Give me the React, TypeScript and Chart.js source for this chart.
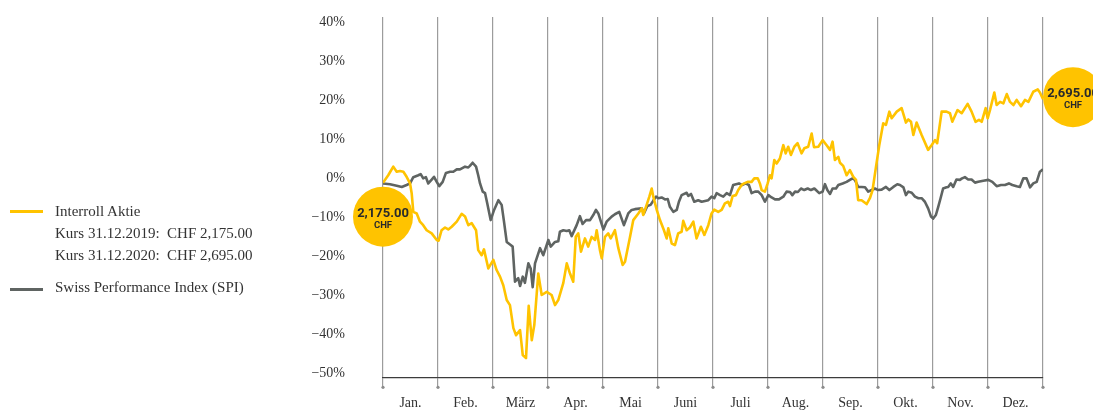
import React, { useEffect, useRef } from "react";
import { Chart, registerables } from "chart.js";

Chart.register(...registerables);

const months = ["Jan.", "Feb.", "März", "Apr.", "Mai", "Juni", "Juli", "Aug.", "Sep.", "Okt.", "Nov.", "Dez."];
const yTicks = [-50, -40, -30, -20, -10, 0, 10, 20, 30, 40];
const startPrice = "2,175.00";
const endPrice = "2,695.00";
const currency = "CHF";

// x: day of year (each month drawn with equal width of 30.5 days)
const interrollDays = [
  0, 2.9, 5.7, 7.6, 9.4, 11.3, 13.1, 15.0, 15.9, 16.8,
  18.7, 20.5, 22.3, 24.2, 27.0, 29.8, 30.8, 32.5, 34.4, 36.2,
  38.1, 40.9, 43.6, 45.5, 47.3, 49.2, 51.6, 52.8, 54.7, 56.0,
  58.4, 61.2, 63.0, 64.9, 66.7, 68.6, 70.4, 72.3, 73.8, 76.0,
  77.5, 79.3, 80.8, 82.5, 83.9, 86.1, 88.0, 90.8, 93.5, 95.4,
  97.2, 100.0, 101.9, 103.7, 105.5, 106.9, 108.3, 109.8, 112.0, 113.8,
  115.7, 117.6, 118.5, 120.3, 121.3, 123.1, 124.9, 126.3, 128.6, 130.5,
  132.9, 134.2, 137.0, 138.8, 141.6, 143.5, 144.3, 146.2, 147.7, 149.0,
  149.9, 151.8, 153.6, 155.8, 157.3, 158.2, 160.1, 161.9, 163.7, 165.6,
  166.5, 168.4, 170.2, 172.1, 173.9, 176.3, 178.2, 180.4, 182.2, 183.7,
  185.9, 187.8, 189.6, 191.4, 192.4, 193.9, 195.7, 197.0, 198.9, 200.3,
  202.2, 204.4, 205.9, 207.8, 209.0, 210.0, 211.8, 213.3, 214.6, 215.5,
  217.0, 218.3, 220.1, 222.0, 223.3, 224.7, 226.2, 228.1, 229.9, 232.1,
  233.6, 235.8, 237.7, 239.0, 241.4, 243.8, 246.0, 247.9, 249.3, 250.6,
  252.5, 253.4, 255.2, 257.1, 258.9, 260.8, 262.3, 263.5, 265.4, 268.2,
  270.0, 271.5, 273.4, 275.2, 277.4, 278.9, 280.8, 282.1, 284.9, 287.6,
  290.0, 291.3, 292.8, 294.1, 295.9, 298.7, 302.3, 304.2, 306.1, 307.3,
  309.8, 312.5, 314.4, 315.7, 318.6, 320.9, 324.2, 326.4, 328.6, 330.5,
  332.0, 334.2, 335.3, 336.6, 339.0, 340.3, 342.2, 344.0, 345.9, 347.7,
  349.6, 351.4, 353.8, 356.0, 357.9, 360.6, 363.1, 364.3, 366
];
const interrollValues = [
  -1.0, 0.9, 3.1, 1.8, 2.0, 1.8, 0.5, -1.2, -3.7, -8.5,
  -8.9, -11.0, -11.9, -13.2, -14.0, -15.7, -15.9, -13.2, -12.5, -13.0,
  -12.3, -11.0, -9.0, -9.7, -11.9, -11.4, -13.2, -18.3, -19.6, -18.1,
  -23.0, -20.8, -23.4, -25.1, -27.3, -31.1, -32.4, -38.3, -40.1, -38.8,
  -45.2, -46.0, -32.6, -41.4, -37.5, -24.3, -29.8, -29.0, -29.8, -32.4,
  -31.1, -26.7, -21.7, -24.3, -26.4, -14.9, -14.0, -18.7, -15.3, -17.4,
  -14.9, -15.7, -13.2, -18.3, -20.4, -14.9, -14.0, -15.3, -13.2, -17.8,
  -22.1, -21.3, -14.9, -10.6, -8.9, -7.6, -9.3, -6.7, -4.6, -2.5,
  -4.6, -8.0, -10.6, -13.2, -15.3, -12.7, -16.6, -17.0, -14.0, -13.6,
  -10.8, -13.2, -12.5, -11.0, -15.3, -12.3, -14.4, -11.9, -8.9, -7.9,
  -8.5, -8.0, -6.3, -5.9, -7.0, -4.4, -4.2, -2.9, -1.6, -1.2,
  -0.8, -0.8, 0.1, 0.1, -1.2, -2.9, -3.3, -1.2, 0.9, 0.1,
  4.8, 3.9, 5.2, 8.6, 6.5, 8.2, 6.1, 8.2, 9.1, 6.5,
  7.8, 8.2, 11.6, 8.1, 8.2, 9.9, 8.6, 7.4, 9.5, 4.8,
  5.6, 4.1, 3.3, 0.9, 2.2, 0.5, -0.3, -5.5, -5.5, -6.5,
  -5.0, -2.9, 3.1, 8.6, 14.2, 13.8, 17.2, 15.5, 17.2, 18.1,
  14.4, 15.2, 14.6, 11.2, 14.4, 11.2, 7.4, 8.6, 9.9, 9.1,
  17.2, 17.2, 16.8, 14.6, 17.6, 16.8, 19.2, 17.2, 14.6, 15.1,
  14.6, 18.1, 15.5, 17.6, 22.1, 18.9, 19.7, 19.3, 21.7, 19.7,
  18.9, 20.2, 18.6, 20.2, 19.7, 22.3, 22.9, 22.1, 20.4
];

const spiDays = [
  0, 3.9, 7.6, 10.4, 13.1, 15.0, 16.8, 19.6, 20.9, 22.3,
  23.8, 25.1, 27.0, 28.3, 29.8, 31.2, 33.1, 34.9, 37.2, 39.0,
  40.9, 42.7, 45.5, 47.3, 48.2, 49.7, 51.6, 52.8, 53.8, 55.3,
  56.6, 57.8, 59.7, 61.6, 64.0, 65.8, 67.1, 68.6, 70.8, 71.9,
  73.2, 75.0, 76.0, 77.5, 78.7, 80.6, 81.9, 83.0, 84.3, 87.1,
  88.9, 91.7, 93.0, 95.4, 97.2, 98.1, 100.0, 101.9, 103.3, 104.6,
  107.4, 109.2, 110.7, 112.6, 114.8, 116.6, 118.1, 119.4, 122.2, 124.0,
  126.8, 128.6, 131.0, 133.6, 136.0, 137.9, 139.7, 143.5, 144.7, 146.6,
  148.4, 149.9, 151.4, 152.7, 154.5, 156.4, 157.9, 159.1, 161.0, 162.9,
  164.1, 165.6, 168.4, 169.3, 170.8, 172.6, 174.8, 176.7, 180.4, 182.2,
  183.7, 185.0, 186.9, 188.7, 190.6, 192.4, 194.2, 197.4, 199.2, 201.1,
  202.9, 204.4, 206.3, 208.1, 210.0, 211.8, 213.7, 215.5, 217.4, 219.6,
  222.0, 223.8, 225.7, 227.0, 228.5, 230.1, 231.8, 233.6, 235.5, 237.3,
  239.2, 240.1, 241.9, 243.8, 245.1, 246.4, 247.9, 249.3, 251.2, 252.5,
  254.9, 257.1, 258.9, 260.4, 261.7, 263.5, 265.4, 267.3, 269.1, 271.0,
  272.8, 274.6, 276.5, 278.9, 280.8, 283.0, 285.2, 286.7, 288.6, 290.0,
  291.3, 293.2, 295.0, 296.9, 298.7, 300.5, 302.3, 303.9, 305.1, 306.6,
  307.9, 309.2, 310.6, 312.5, 313.4, 314.9, 316.2, 318.0, 319.9, 321.1,
  322.7, 324.5, 326.4, 328.3, 330.1, 332.9, 335.7, 337.9, 340.3, 342.7,
  344.9, 347.1, 349.0, 351.4, 353.2, 355.1, 356.9, 358.8, 360.6, 362.5,
  364.3, 366
];
const spiValues = [
  -1.2, -1.4, -1.8, -2.1, -1.6, -1.2, 0.4, 0.9, 1.2, 0.1,
  0.4, -1.2, -0.2, 0.5, -0.8, -1.9, -0.8, 1.5, 1.8, 1.8,
  2.4, 2.4, 3.1, 2.9, 3.3, 4.1, 3.1, 0.9, -1.2, -3.3,
  -3.7, -6.3, -10.6, -8.0, -5.5, -6.7, -11.0, -16.2, -17.0, -17.4,
  -26.4, -25.5, -27.5, -25.1, -26.7, -21.7, -23.0, -27.8, -21.7, -17.8,
  -19.6, -15.7, -17.4, -16.2, -16.0, -13.6, -13.2, -13.4, -13.2, -14.7,
  -11.9, -9.6, -11.6, -10.6, -10.6, -9.3, -8.0, -8.9, -13.0, -11.0,
  -9.7, -9.1, -8.5, -11.9, -8.9, -8.0, -7.8, -7.6, -8.9, -7.0,
  -6.7, -5.6, -4.6, -5.0, -4.8, -5.3, -5.2, -7.2, -8.5, -8.0,
  -5.9, -4.2, -3.6, -4.4, -3.9, -5.9, -5.5, -5.9, -5.5, -4.6,
  -5.0, -3.7, -4.2, -4.6, -3.7, -4.2, -1.6, -1.2, -1.6, -1.2,
  -1.6, -3.7, -3.3, -3.3, -4.2, -5.9, -4.2, -4.8, -5.3, -5.3,
  -4.6, -3.3, -3.4, -4.2, -3.3, -3.4, -2.5, -2.9, -2.5, -2.9,
  -2.5, -2.9, -3.7, -3.3, -1.4, -2.9, -3.9, -2.5, -2.5, -1.6,
  -1.2, -0.8, -0.3, 0.1, -0.3, -2.1, -2.1, -2.2, -3.3, -2.9,
  -2.5, -2.9, -2.8, -2.1, -2.9, -2.1, -1.4, -1.6, -2.2, -4.2,
  -3.3, -3.6, -4.6, -5.0, -5.0, -5.9, -7.6, -9.7, -10.2, -9.3,
  -7.2, -5.0, -2.5, -2.2, -2.1, -1.2, -2.1, -0.2, -0.3, 0.1,
  0.4, -0.2, -0.2, -1.0, -0.8, -0.5, -0.3, -0.8, -1.9, -1.6,
  -1.6, -1.2, -1.6, -1.9, -2.1, 0.1, 0.1, -2.2, -1.2, -0.8,
  1.8, 2.4
];

const YELLOW = "#FFC300";
const GREY = "#5f6462";
const TEXT = "#333333";
const SERIF = "'Liberation Serif', 'Times New Roman', serif";

function toPoints(xs: number[], ys: number[]) {
  const n = Math.min(xs.length, ys.length);
  const out: { x: number; y: number }[] = [];
  for (let i = 0; i < n; i++) out.push({ x: xs[i], y: ys[i] });
  return out;
}

function drawBadge(ctx: CanvasRenderingContext2D, cx: number, cy: number, price: string) {
  ctx.save();
  ctx.beginPath();
  ctx.arc(cx, cy, 30, 0, Math.PI * 2);
  ctx.fillStyle = YELLOW;
  ctx.fill();
  ctx.fillStyle = "#2a2a2a";
  ctx.textAlign = "center";
  ctx.textBaseline = "middle";
  ctx.font = "bold 13px Roboto, 'DejaVu Sans', sans-serif";
  ctx.fillText(price, cx, cy - 3);
  ctx.font = "bold 9.5px Roboto, 'DejaVu Sans', sans-serif";
  ctx.fillText(currency, cx, cy + 8.5);
  ctx.restore();
}

const badgePlugin = {
  id: "badges",
  afterDatasetsDraw(chart: any) {
    const meta = chart.getDatasetMeta(0);
    const pts = meta.data;
    if (!pts.length) return;
    const first = pts[0];
    const last = pts[pts.length - 1];
    drawBadge(chart.ctx, first.x, first.y + 34, startPrice);
    drawBadge(chart.ctx, last.x + 30, last.y - 2, endPrice);
  },
};

const tickDotPlugin = {
  id: "tickDots",
  afterDraw(chart: any) {
    const xs = chart.scales.x;
    const ctx = chart.ctx;
    ctx.save();
    ctx.fillStyle = "#8c8c8c";
    for (let k = 0; k <= months.length; k++) {
      const x = xs.getPixelForValue(k * 30.5);
      ctx.beginPath();
      ctx.arc(x, chart.chartArea.bottom + 10, 1.6, 0, Math.PI * 2);
      ctx.fill();
    }
    ctx.restore();
  },
};

function ChartCanvas() {
  const ref = useRef<HTMLCanvasElement | null>(null);
  useEffect(() => {
    document.body.style.margin = "0";
    if (!ref.current) return;
    const chart = new Chart(ref.current, {
      type: "line",
      data: {
        datasets: [
          {
            label: "Interroll Aktie",
            data: toPoints(interrollDays, interrollValues),
            borderColor: YELLOW,
            borderWidth: 2.6,
            pointRadius: 0,
            tension: 0,
            borderJoinStyle: "round",
          },
          {
            label: "Swiss Performance Index (SPI)",
            data: toPoints(spiDays, spiValues),
            borderColor: GREY,
            borderWidth: 2.6,
            pointRadius: 0,
            tension: 0,
            borderJoinStyle: "round",
          },
        ],
      },
      options: {
        animation: false,
        responsive: false,
        devicePixelRatio: 1,
        parsing: false,
        layout: { autoPadding: false, padding: { top: 17, right: 50, left: 0, bottom: 0 } },
        plugins: { legend: { display: false }, tooltip: { enabled: false } },
        scales: {
          x: {
            type: "linear",
            min: 0,
            max: 366,
            afterBuildTicks: (s: any) => {
              s.ticks = Array.from({ length: months.length * 2 + 1 }, (_, i) => ({ value: i * 15.25 }));
            },
            afterFit: (s: any) => {
              s.height = 32.7;
            },
            grid: {
              color: (c: any) => (c.index % 2 === 0 ? "#9c9c9c" : "rgba(0,0,0,0)"),
              lineWidth: 1.2,
              tickLength: 10,
              drawTicks: true,
            },
            border: { display: true, color: "#3c3c3c", width: 1.2 },
            ticks: {
              autoSkip: false,
              maxRotation: 0,
              minRotation: 0,
              padding: 8,
              color: TEXT,
              font: { family: SERIF, size: 14 },
              callback: (_v: any, i: number) => (i % 2 === 1 ? months[(i - 1) / 2] : ""),
            },
          },
          y: {
            type: "linear",
            min: -50.9,
            max: 41.46,
            afterBuildTicks: (s: any) => {
              s.ticks = yTicks.map((v) => ({ value: v }));
            },
            afterFit: (s: any) => {
              s.width = 383;
            },
            grid: {
              display: true,
              drawOnChartArea: false,
              drawTicks: true,
              tickLength: 36,
              tickColor: "rgba(0,0,0,0)",
            },
            border: { display: false },
            ticks: {
              padding: 2,
              color: TEXT,
              font: { family: SERIF, size: 14 },
              callback: (v: any) => (v < 0 ? "\u2212" + Math.abs(v) + "%" : v + "%"),
            },
          },
        },
      },
      plugins: [badgePlugin, tickDotPlugin],
    } as any);
    return () => chart.destroy();
  }, []);
  return <canvas ref={ref} width={1093} height={410} style={{ position: "absolute", left: 0, top: 0 }} />;
}

const legendText: React.CSSProperties = {
  position: "absolute",
  left: 55,
  fontFamily: SERIF,
  fontSize: 15,
  lineHeight: "15px",
  color: TEXT,
  whiteSpace: "pre",
};

export default function App() {
  return (
    <div style={{ position: "relative", width: 1093, height: 410, overflow: "hidden", background: "#fff" }}>
      <ChartCanvas />
      <div style={{ position: "absolute", left: 10, top: 210, width: 33, height: 3, background: YELLOW }} />
      <div style={{ ...legendText, top: 203.5 }}>Interroll Aktie</div>
      <div style={{ ...legendText, top: 226 }}>{"Kurs 31.12.2019:  CHF 2,175.00"}</div>
      <div style={{ ...legendText, top: 247.5 }}>{"Kurs 31.12.2020:  CHF 2,695.00"}</div>
      <div style={{ position: "absolute", left: 10, top: 288, width: 33, height: 3, background: GREY }} />
      <div style={{ ...legendText, top: 280 }}>Swiss Performance Index (SPI)</div>
    </div>
  );
}
